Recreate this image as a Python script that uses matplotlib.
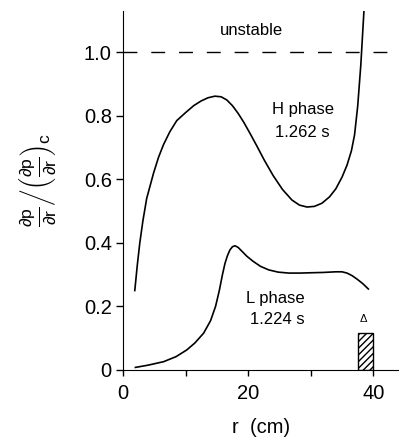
import numpy as np
import matplotlib
matplotlib.use("Agg")
import matplotlib.pyplot as plt

plt.rcParams['font.family'] = ['Liberation Sans', 'DejaVu Sans']
plt.rcParams['mathtext.fontset'] = 'custom'
plt.rcParams['mathtext.rm'] = 'Liberation Sans'
plt.rcParams['mathtext.it'] = 'Liberation Sans'
plt.rcParams['mathtext.sf'] = 'Liberation Sans'

# H phase (1.262 s)
r_h = [1.9, 2.3, 2.7, 3.2, 3.8, 4.9, 5.7, 6.5, 7.5, 8.6, 10.0, 11.3, 12.5, 13.6,
       14.7, 15.7, 16.6, 17.5, 18.4, 19.3, 20.3, 21.4, 22.6, 24.0, 25.5, 27.0,
       28.2, 29.4, 30.6, 31.8, 33.0, 34.0, 35.0, 35.8, 36.5, 37.0, 37.5, 38.0,
       38.5]
v_h = [0.25, 0.33, 0.40, 0.47, 0.54, 0.62, 0.67, 0.71, 0.75, 0.785, 0.81, 0.832,
       0.847, 0.857, 0.862, 0.86, 0.85, 0.832, 0.808, 0.78, 0.745, 0.705, 0.66,
       0.612, 0.568, 0.535, 0.519, 0.513, 0.515, 0.525, 0.545, 0.57, 0.607,
       0.645, 0.69, 0.74, 0.83, 0.96, 1.13]

# L phase (1.224 s)
r_l = [2.0, 4.0, 6.5, 8.5, 10.2, 11.5, 12.9, 14.0, 14.8, 15.4, 15.9, 16.3, 16.7,
       17.1, 17.5, 17.9, 18.4, 19.0, 19.8, 20.8, 22.0, 23.3, 24.8, 26.5, 28.3,
       30.0, 32.0, 34.0, 35.0, 35.8, 36.6, 37.4, 38.3, 39.2]
v_l = [0.008, 0.015, 0.026, 0.042, 0.063, 0.085, 0.116, 0.155, 0.2, 0.25, 0.3,
       0.335, 0.36, 0.378, 0.388, 0.391, 0.386, 0.374, 0.358, 0.342, 0.326,
       0.315, 0.308, 0.305, 0.305, 0.306, 0.307, 0.309, 0.309, 0.305, 0.297,
       0.286, 0.272, 0.255]

# hatched region Delta
delta_r = [37.5, 40.0]
delta_h = 0.115
limit = 1.0

fig = plt.figure(figsize=(3.99, 4.42), dpi=100)
ax = fig.add_axes([0.308, 0.163, 0.692, 0.812])

ax.plot(r_h, v_h, color='black', lw=1.2)
ax.plot(r_l, v_l, color='black', lw=1.2)
ax.axhline(limit, color='black', lw=1.0, dashes=(10, 10))
ax.bar(delta_r[0], delta_h, width=delta_r[1] - delta_r[0], align='edge',
       facecolor='none', edgecolor='black', hatch='/////', lw=1.0)

ax.text(20.6, 1.069, 'unstable', ha='center', va='center', fontsize=12)
ax.text(28.8, 0.82, 'H phase', ha='center', va='center', fontsize=12)
ax.text(28.6, 0.748, '1.262 s', ha='center', va='center', fontsize=12)
ax.text(24.3, 0.226, 'L phase', ha='center', va='center', fontsize=12)
ax.text(24.6, 0.158, '1.224 s', ha='center', va='center', fontsize=12)
ax.text(38.4, 0.165, r'$\Delta$', ha='center', va='center', fontsize=8)

ax.set_xlim(0, 44.1)
ax.set_ylim(0, 1.13)
ax.set_xticks([0, 20, 40])
ax.set_xticks([10, 30], minor=True)
ax.set_yticks([0, 0.2, 0.4, 0.6, 0.8, 1.0])
ax.set_yticklabels(['0', '0.2', '0.4', '0.6', '0.8', '1.0'])
ax.tick_params(which='both', direction='out', width=1.0, labelsize=14.5)
ax.tick_params(axis='y', length=5, pad=3)
ax.tick_params(axis='x', which='both', length=4, pad=6)
ax.spines['top'].set_visible(False)
ax.spines['right'].set_visible(False)

ax.set_xlabel('r  (cm)', fontsize=14.5, labelpad=11)
fig.text(0.095, 0.593,
         r'$\left.\frac{\partial \mathrm{p}}{\partial \mathrm{r}}\right/\left(\frac{\partial \mathrm{p}}{\partial \mathrm{r}}\right)_{\mathrm{c}}$',
         rotation=90, ha='center', va='center', fontsize=18)

fig.savefig('out.png', dpi=100)
